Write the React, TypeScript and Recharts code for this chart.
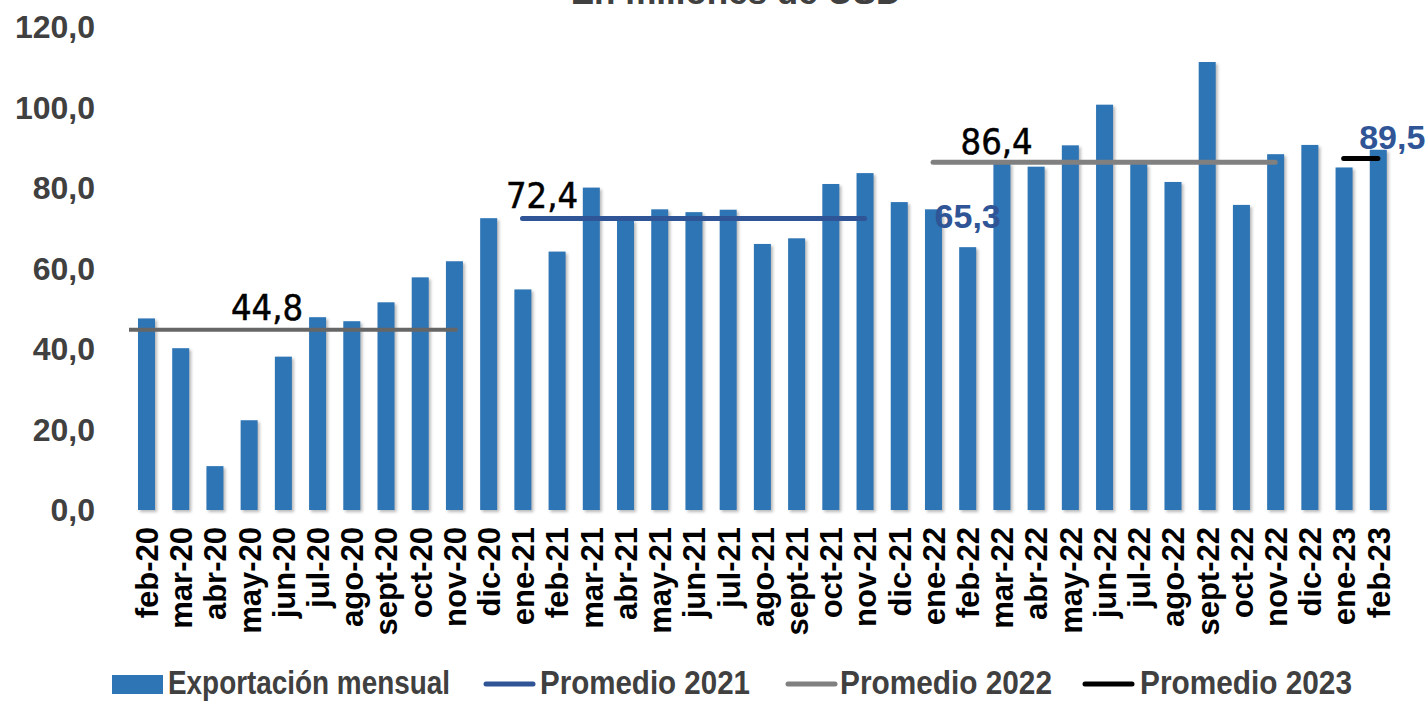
import React from 'react';
import { ComposedChart, Bar, Line, XAxis, YAxis, ReferenceLine, LabelList, Legend } from 'recharts';

const categories = ['feb-20','mar-20','abr-20','may-20','jun-20','jul-20','ago-20','sept-20','oct-20','nov-20','dic-20','ene-21','feb-21','mar-21','abr-21','may-21','jun-21','jul-21','ago-21','sept-21','oct-21','nov-21','dic-21','ene-22','feb-22','mar-22','abr-22','may-22','jun-22','jul-22','ago-22','sept-22','oct-22','nov-22','dic-22','ene-23','feb-23'];

const exportacion = [47.6,40.2,10.9,22.3,38.1,47.9,46.9,51.6,57.8,61.8,72.5,54.8,64.2,80.1,72.0,74.7,74.0,74.6,66.1,67.5,81.0,83.7,76.5,74.7,65.3,86.2,85.3,90.6,100.7,86.0,81.5,111.3,75.8,88.4,90.7,85.1,89.5];

const N = null;
const promedio2021 = [N,N,N,N,N,N,N,N,N,N,N,72.4,72.4,72.4,72.4,72.4,72.4,72.4,72.4,72.4,72.4,72.4,N,N,N,N,N,N,N,N,N,N,N,N,N,N,N];
const promedio2022 = [N,N,N,N,N,N,N,N,N,N,N,N,N,N,N,N,N,N,N,N,N,N,N,86.4,86.4,86.4,86.4,86.4,86.4,86.4,86.4,86.4,86.4,86.4,N,N,N];
const promedio2023 = [N,N,N,N,N,N,N,N,N,N,N,N,N,N,N,N,N,N,N,N,N,N,N,N,N,N,N,N,N,N,N,N,N,N,N,87.3,87.3];

// 2020 average, drawn on a hidden numeric axis measured in category bands (0..37)
const promedio2020 = { value: 44.8, from: 0, to: 9.6 };

const yTicks = [0, 20, 40, 60, 80, 100, 120];
const barLabelCats = ['feb-22', 'feb-23'];

const data = categories.map((c, i) => ({
  cat: c,
  pos: i + 0.5,
  exp: exportacion[i],
  p2021: promedio2021[i],
  p2022: promedio2022[i],
  p2023: promedio2023[i],
}));

const fmt = (v: number) => v.toFixed(1).replace('.', ',');

const SANS = "'Liberation Sans', Arial, sans-serif";
const COND = "'DejaVu Sans Condensed', 'Liberation Sans Narrow', sans-serif";

const XTick = (props: any) => {
  const { x, y, payload } = props;
  return (
    <text x={x} y={y} transform={`rotate(-90 ${x} ${y})`} textAnchor="end" dy="0.38em"
      fontSize={31} fontWeight={700} fill="#000" fontFamily={SANS}>
      {payload.value}
    </text>
  );
};

const ShadowBar = (props: any) => {
  const { x, y, width, height } = props;
  if (height == null || height <= 0) return null;
  return (
    <rect x={x} y={y} width={width} height={height} fill="#2E75B6"
      style={{ filter: 'drop-shadow(2px 2px 1.5px rgba(0,0,0,0.28))' }} />
  );
};

const makeLineLabel = (first: number, dx: number, dy: number) => (props: any) => {
  const { x, y, value, index } = props;
  if (index !== first || value == null) return null;
  return (
    <text x={x + dx} y={y + dy} textAnchor="middle" fontSize={36} fill="#000" fontFamily={COND}
      stroke="#000" strokeWidth={0.5}>
      {fmt(value)}
    </text>
  );
};

const barLabel = (props: any) => {
  const { x, y, width, value, index } = props;
  const cat = categories[index];
  if (!barLabelCats.includes(cat)) return null;
  const dx = cat === 'feb-23' ? 14 : 0;
  const dy = cat === 'feb-23' ? -1 : -19;
  return (
    <text x={x + width / 2 + dx} y={y + dy} textAnchor="middle" fontSize={34} fontWeight={700}
      fill="#2F5597" fontFamily={SANS}>
      {fmt(value)}
    </text>
  );
};

const ref2020Label = (props: any) => {
  const vb = props.viewBox || {};
  const x0 = vb.x ?? vb.x1 ?? 0;
  const y0 = vb.y ?? vb.y1 ?? 0;
  return (
    <text x={x0 + 138} y={y0 - 10} textAnchor="middle" fontSize={36} fill="#000" fontFamily={COND}
      stroke="#000" strokeWidth={0.5}>
      {fmt(promedio2020.value)}
    </text>
  );
};

const legendItems = [
  { label: 'Exportación mensual', type: 'rect', color: '#2E75B6', icon: 112, text: 168, len: 282 },
  { label: 'Promedio 2021', type: 'line', color: '#2F5597', icon: 483, text: 540, len: 210 },
  { label: 'Promedio 2022', type: 'line', color: '#808080', icon: 785, text: 840, len: 212 },
  { label: 'Promedio 2023', type: 'line', color: '#000000', icon: 1082, text: 1140, len: 212 },
];

const renderLegend = () => (
  <svg width={1395} height={36} style={{ display: 'block', overflow: 'visible' }}>
    {legendItems.map((it) => (
      <g key={it.label}>
        {it.type === 'rect' ? (
          <rect x={it.icon} y={10} width={51} height={19} fill={it.color} />
        ) : (
          <line x1={it.icon + 3} y1={19} x2={it.icon + 50} y2={19} stroke={it.color} strokeWidth={5} strokeLinecap="round" />
        )}
        <text x={it.text} y={29} fontFamily={SANS} fontWeight={700} fontSize={33} fill="#404040"
          textLength={it.len} lengthAdjust="spacingAndGlyphs">
          {it.label}
        </text>
      </g>
    ))}
  </svg>
);

export default function App() {
  return (
    <div style={{ position: 'absolute', left: 0, top: 0, width: 1427, height: 701, background: '#fff' }}>
      <ComposedChart width={1427} height={701} data={data} margin={{ top: 27, right: 32, left: 0, bottom: 0 }}>
        <XAxis xAxisId="cat" dataKey="cat" interval={0} axisLine={false} tickLine={false}
          tickSize={0} tickMargin={17} height={155} tick={<XTick />} />
        <XAxis xAxisId="num" dataKey="pos" type="number" scale="linear" domain={[0, 37]} hide allowDataOverflow />
        <YAxis domain={[0, 120]} ticks={yTicks} width={129} axisLine={false} tickLine={false}
          tickSize={0} tickMargin={34} tickFormatter={fmt}
          tick={{ fill: '#404040', fontSize: 32, fontWeight: 700, fontFamily: SANS }} />
        <Bar xAxisId="cat" dataKey="exp" barSize={17} fill="#2E75B6" shape={<ShadowBar />} isAnimationActive={false}>
          <LabelList dataKey="exp" content={barLabel} />
        </Bar>
        <ReferenceLine xAxisId="num" segment={[{ x: promedio2020.from, y: promedio2020.value }, { x: promedio2020.to, y: promedio2020.value }]}
          stroke="#666666" strokeWidth={4} label={ref2020Label} ifOverflow="visible" />
        <Line xAxisId="cat" dataKey="p2021" stroke="#2F5597" strokeWidth={5} strokeLinecap="round" dot={false}
          activeDot={false} isAnimationActive={false} connectNulls={false}>
          <LabelList dataKey="p2021" content={makeLineLabel(11, 19.5, -11)} />
        </Line>
        <Line xAxisId="cat" dataKey="p2022" stroke="#808080" strokeWidth={5} strokeLinecap="round" dot={false}
          activeDot={false} isAnimationActive={false} connectNulls={false}>
          <LabelList dataKey="p2022" content={makeLineLabel(23, 63.5, -8.5)} />
        </Line>
        <Line xAxisId="cat" dataKey="p2023" stroke="#000000" strokeWidth={5} strokeLinecap="round" dot={false}
          activeDot={false} isAnimationActive={false} connectNulls={false} />
        <Legend verticalAlign="bottom" height={36} content={renderLegend} />
      </ComposedChart>
      <svg width={1427} height={30} style={{ position: 'absolute', left: 0, top: 0, pointerEvents: 'none' }}>
        <text x={736} y={4} textAnchor="middle" fontSize={35} fontWeight={700} fill="#404040" fontFamily={SANS}>
          En millones de USD
        </text>
      </svg>
    </div>
  );
}
